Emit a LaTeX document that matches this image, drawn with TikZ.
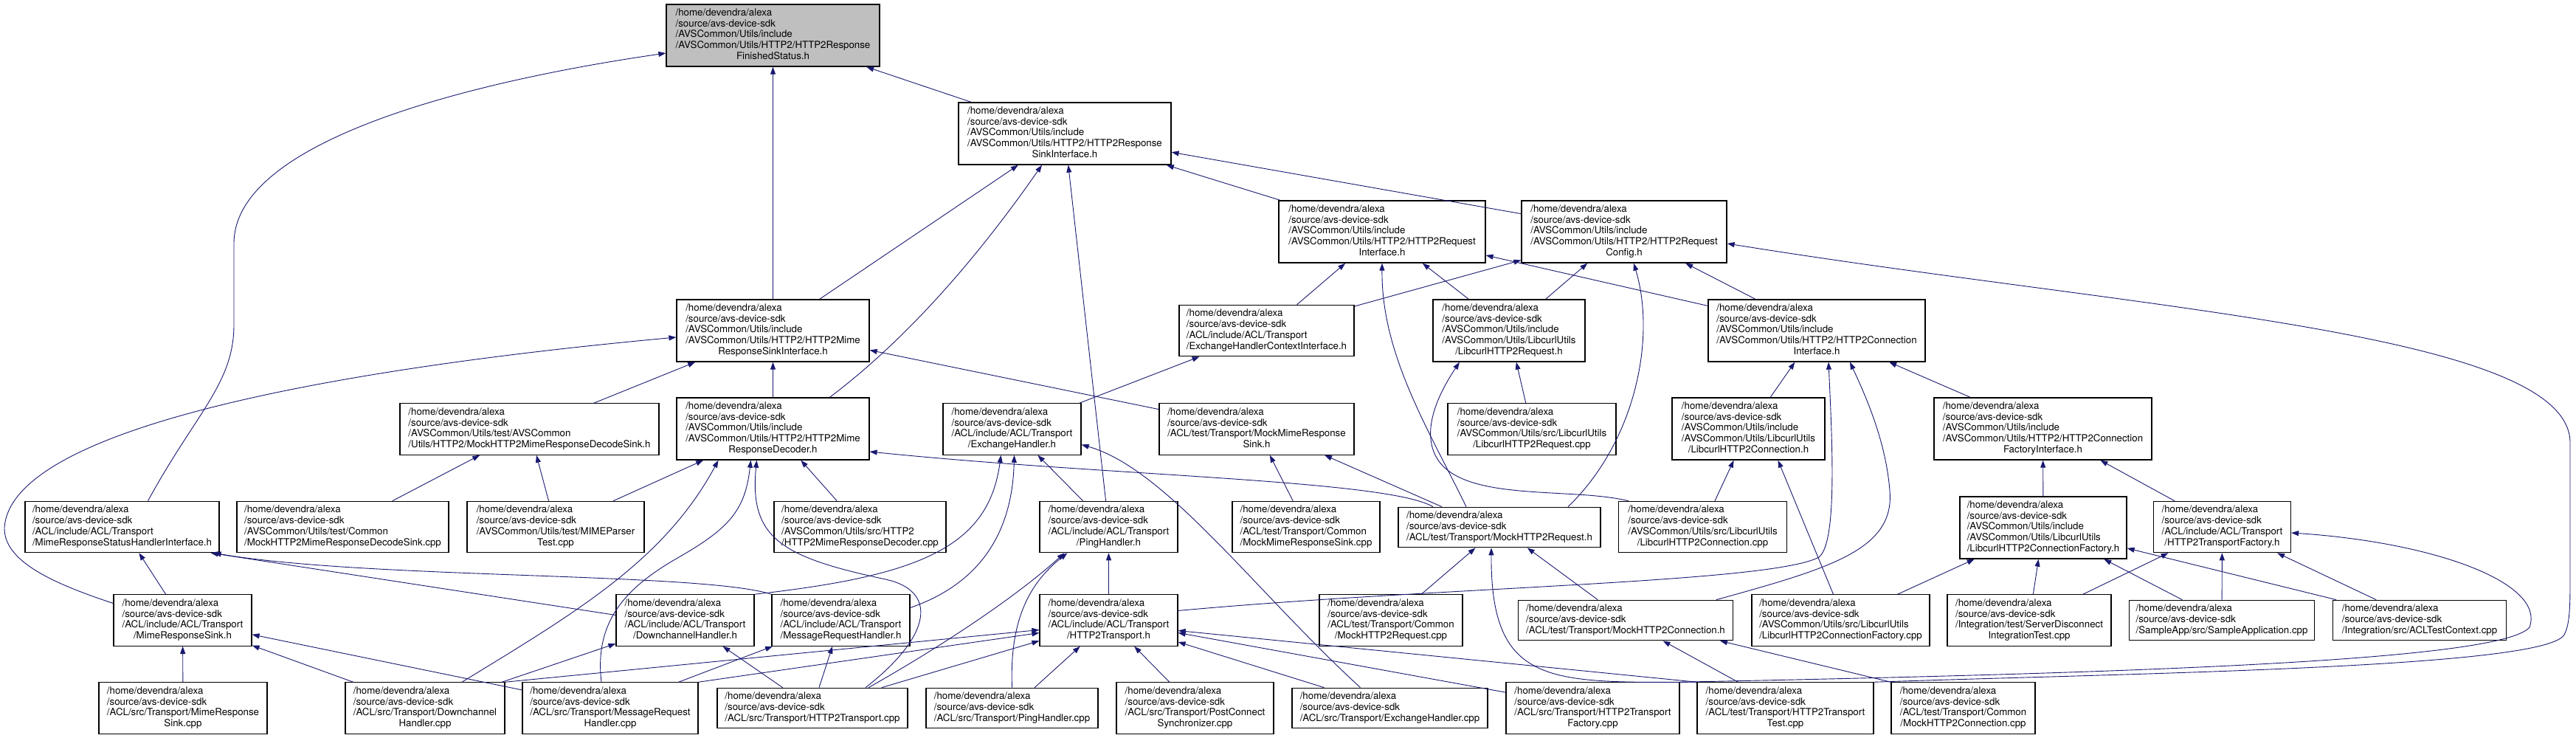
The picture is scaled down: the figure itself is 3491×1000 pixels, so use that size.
\documentclass[tikz,border=0pt]{standalone}
\usepackage{fontspec}
\setmainfont{TeX Gyre Heros}
\usetikzlibrary{arrows.meta}
\definecolor{depblue}{HTML}{191970}
\definecolor{selgrey}{HTML}{BFBFBF}
\newcommand{\fl}[2]{\begin{tabular}{@{}l@{}}/home/devendra/alexa\\/source/avs-device-sdk\\#1\\\multicolumn{1}{@{}c@{}}{#2}\end{tabular}}
\newcommand{\fs}[1]{\begin{tabular}{@{}l@{}}/home/devendra/alexa\\/source/avs-device-sdk\\#1\end{tabular}}

\begin{document}
\begin{tikzpicture}[x=1pt, y=-1pt,
    hdrbox/.style={draw=black, line width=1.2pt, fill=white, inner xsep=2pt, inner ysep=5pt,
                   font=\fontsize{13.3}{14.83}\selectfont},
    dep/.style={draw=depblue, line width=0.9pt, -{Triangle[length=10pt,width=7pt]}}
]
\useasboundingbox (0,0) rectangle (3491,1000);

\node[hdrbox, fill=selgrey, minimum width=289pt] (fin) at (1047.5,48) {\fl{/AVSCommon/Utils/include\\/AVSCommon/Utils/HTTP2/HTTP2Response}{FinishedStatus.h}};
\node[hdrbox, minimum width=288pt] (sinkif) at (1443,181) {\fl{/AVSCommon/Utils/include\\/AVSCommon/Utils/HTTP2/HTTP2Response}{SinkInterface.h}};
\node[hdrbox, minimum width=280pt] (reqif) at (1873,314) {\fl{/AVSCommon/Utils/include\\/AVSCommon/Utils/HTTP2/HTTP2Request}{Interface.h}};
\node[hdrbox, minimum width=278pt] (reqcfg) at (2201,314) {\fl{/AVSCommon/Utils/include\\/AVSCommon/Utils/HTTP2/HTTP2Request}{Config.h}};
\node[hdrbox, minimum width=261pt] (mimesinkif) at (1047.5,448) {\fl{/AVSCommon/Utils/include\\/AVSCommon/Utils/HTTP2/HTTP2Mime}{ResponseSinkInterface.h}};
\node[hdrbox, minimum width=261pt] (mimedec) at (1047.5,581) {\fl{/AVSCommon/Utils/include\\/AVSCommon/Utils/HTTP2/HTTP2Mime}{ResponseDecoder.h}};
\node[hdrbox, minimum width=237pt] (exctxif) at (1716.5,448) {\fl{/ACL/include/ACL/Transport}{/ExchangeHandlerContextInterface.h}};
\node[hdrbox, minimum width=187pt] (exh) at (1371.5,581.5) {\fl{/ACL/include/ACL/Transport}{/ExchangeHandler.h}};
\node[hdrbox, minimum width=264pt] (mockmimesink) at (1703,581.5) {\fl{/ACL/test/Transport/MockMimeResponse}{Sink.h}};
\node[hdrbox, minimum width=206pt] (lcreq) at (2045,448) {\fl{/AVSCommon/Utils/include\\/AVSCommon/Utils/LibcurlUtils}{/LibcurlHTTP2Request.h}};
\node[hdrbox, minimum width=294pt] (connif) at (2462,448) {\fl{/AVSCommon/Utils/include\\/AVSCommon/Utils/HTTP2/HTTP2Connection}{Interface.h}};
\node[hdrbox, minimum width=228pt] (lcreqcpp) at (2076,581.5) {\fl{/AVSCommon/Utils/src/LibcurlUtils}{/LibcurlHTTP2Request.cpp}};
\node[hdrbox, minimum width=207pt] (lcconn) at (2369.5,581) {\fl{/AVSCommon/Utils/include\\/AVSCommon/Utils/LibcurlUtils}{/LibcurlHTTP2Connection.h}};
\node[hdrbox, minimum width=295pt] (connfacif) at (2768.5,581) {\fl{/AVSCommon/Utils/include\\/AVSCommon/Utils/HTTP2/HTTP2Connection}{FactoryInterface.h}};
\node[hdrbox, minimum width=351pt] (mockdecsink) at (717.5,581.5) {\fl{/AVSCommon/Utils/test/AVSCommon}{/Utils/HTTP2/MockHTTP2MimeResponseDecodeSink.h}};
\node[hdrbox, minimum width=263pt] (mimestatus) at (165.5,714) {\fl{/ACL/include/ACL/Transport}{/MimeResponseStatusHandlerInterface.h}};
\node[hdrbox, minimum width=287pt] (mockdecsinkcpp) at (464.5,714) {\fl{/AVSCommon/Utils/test/Common}{/MockHTTP2MimeResponseDecodeSink.cpp}};
\node[hdrbox, minimum width=240pt] (mimeparsertest) at (753,714) {\fl{/AVSCommon/Utils/test/MIMEParser}{Test.cpp}};
\node[hdrbox, minimum width=187pt] (mimesink) at (247.5,840.5) {\fl{/ACL/include/ACL/Transport}{/MimeResponseSink.h}};
\node[hdrbox, minimum width=228pt] (mimesinkcpp) at (248,959.5) {\fl{/ACL/src/Transport/MimeResponse}{Sink.cpp}};
\node[hdrbox, minimum width=216pt] (dchcpp) at (576,959.5) {\fl{/ACL/src/Transport/Downchannel}{Handler.cpp}};
\node[hdrbox, minimum width=238pt] (mrhcpp) at (827,959.5) {\fl{/ACL/src/Transport/MessageRequest}{Handler.cpp}};
\node[hdrbox, minimum width=187pt] (dch) at (928.5,840.5) {\fl{/ACL/include/ACL/Transport}{/DownchannelHandler.h}};
\node[hdrbox, minimum width=187pt] (mrh) at (1139.5,840.5) {\fl{/ACL/include/ACL/Transport}{/MessageRequestHandler.h}};
\node[hdrbox, minimum width=233pt] (mimedeccpp) at (1165.5,714) {\fl{/AVSCommon/Utils/src/HTTP2}{/HTTP2MimeResponseDecoder.cpp}};
\node[hdrbox, minimum width=187pt] (ping) at (1502.5,714) {\fl{/ACL/include/ACL/Transport}{/PingHandler.h}};
\node[hdrbox, minimum width=187pt] (transport) at (1502.5,840.5) {\fl{/ACL/include/ACL/Transport}{/HTTP2Transport.h}};
\node[hdrbox, minimum width=258pt] (transportcpp) at (1101,959.5) {\fs{/ACL/src/Transport/HTTP2Transport.cpp}};
\node[hdrbox, minimum width=233pt] (pingcpp) at (1371.5,959.5) {\fs{/ACL/src/Transport/PingHandler.cpp}};
\node[hdrbox, minimum width=213pt] (postconn) at (1619.5,959.5) {\fl{/ACL/src/Transport/PostConnect}{Synchronizer.cpp}};
\node[hdrbox, minimum width=200pt] (mockmimesinkcpp) at (1770,714) {\fl{/ACL/test/Transport/Common}{/MockMimeResponseSink.cpp}};
\node[hdrbox, minimum width=274pt] (mockreq) at (2032,714.5) {\fs{/ACL/test/Transport/MockHTTP2Request.h}};
\node[hdrbox, minimum width=228pt] (lcconncpp) at (2307.5,714) {\fl{/AVSCommon/Utils/src/LibcurlUtils}{/LibcurlHTTP2Connection.cpp}};
\node[hdrbox, minimum width=194pt] (mockreqcpp) at (1885,840.5) {\fl{/ACL/test/Transport/Common}{/MockHTTP2Request.cpp}};
\node[hdrbox, minimum width=291pt] (mockconn) at (2203,840.5) {\fs{/ACL/test/Transport/MockHTTP2Connection.h}};
\node[hdrbox, minimum width=241pt] (lcconnfaccpp) at (2494.5,840.5) {\fl{/AVSCommon/Utils/src/LibcurlUtils}{/LibcurlHTTP2ConnectionFactory.cpp}};
\node[hdrbox, minimum width=265pt] (exhcpp) at (1883.5,959.5) {\fs{/ACL/src/Transport/ExchangeHandler.cpp}};
\node[hdrbox, minimum width=235pt] (transfaccpp) at (2158.5,959.5) {\fl{/ACL/src/Transport/HTTP2Transport}{Factory.cpp}};
\node[hdrbox, minimum width=239pt] (transtest) at (2419.5,959.5) {\fl{/ACL/test/Transport/HTTP2Transport}{Test.cpp}};
\node[hdrbox, minimum width=195pt] (mockconncpp) at (2660.5,959.5) {\fl{/ACL/test/Transport/Common}{/MockHTTP2Connection.cpp}};
\node[hdrbox, minimum width=226pt] (lcconnfac) at (2769,715) {\fl{/AVSCommon/Utils/include\\/AVSCommon/Utils/LibcurlUtils}{/LibcurlHTTP2ConnectionFactory.h}};
\node[hdrbox, minimum width=186pt] (transfac) at (3011.5,714) {\fl{/ACL/include/ACL/Transport}{/HTTP2TransportFactory.h}};
\node[hdrbox, minimum width=222pt] (srvdisc) at (2750,840.5) {\fl{/Integration/test/ServerDisconnect}{IntegrationTest.cpp}};
\node[hdrbox, minimum width=251pt] (sampleapp) at (3011,840.5) {\fs{/SampleApp/src/SampleApplication.cpp}};
\node[hdrbox, minimum width=235pt] (acltestctx) at (3279,840.5) {\fs{/Integration/src/ACLTestContext.cpp}};

\draw[dep] (sinkif) -- (fin);
\draw[dep] (mimesinkif) -- (fin);
\draw[dep] ([xshift=35pt]mimestatus.north) .. controls (265,560) and (317,520) .. (317,440) -- (317,330) .. controls (317,190) and (640,110) .. ([yshift=-24pt]fin.west);
\draw[dep] (mimesinkif) -- (sinkif);
\draw[dep] ([xshift=77pt]mimedec.north) .. controls (1215,470) and (1310,370) .. ([xshift=-31pt]sinkif.south);
\draw[dep] (ping) -- (sinkif);
\draw[dep] (reqif) -- (sinkif);
\draw[dep] (reqcfg) -- (sinkif);
\draw[dep] (mimedec) -- (mimesinkif);
\draw[dep] (mockdecsink) -- (mimesinkif);
\draw[dep] (mockmimesink) -- (mimesinkif);
\draw[dep] ([yshift=23pt]mimesink.west) .. controls (70,790) and (5,760) .. (6,715) .. controls (15,580) and (450,500) .. ([yshift=-9pt]mimesinkif.west);
\draw[dep] (exctxif) -- (reqif);
\draw[dep] (exctxif) -- (reqcfg);
\draw[dep] (lcreq) -- (reqif);
\draw[dep] (lcreq) -- (reqcfg);
\draw[dep] (connif) -- (reqif);
\draw[dep] (connif) -- (reqcfg);
\draw[dep] ([xshift=-45pt]mockreq.north) .. controls (1935,580) and (1872,480) .. (reqif.south);
\draw[dep] ([xshift=93pt]mockreq.north) .. controls (2215,600) and (2245,460) .. ([xshift=13pt]reqcfg.south);
\draw[dep] ([xshift=-90pt]mockreq.north) .. controls (1880,650) and (1500,645) .. ([yshift=-31pt]mimedec.east);
\draw[dep] ([xshift=-78pt]mockreq.north) -- ([xshift=92pt]mockmimesink.south);
\draw[dep] (mockmimesinkcpp) -- (mockmimesink);
\draw[dep] (exh) -- (exctxif);
\draw[dep] (dch.north east) .. controls (1250,780) and (1340,740) .. ([xshift=-15pt]exh.south);
\draw[dep] ([yshift=17pt]mrh.east) .. controls (1330,790) and (1372,720) .. ([xshift=3pt]exh.south);
\draw[dep] (ping) -- (exh);
\draw[dep] ([xshift=-40pt]exhcpp.north) .. controls (1700,800) and (1580,635) .. ([yshift=-21pt]exh.east);
\draw[dep] (transport) -- (ping);
\draw[dep] ([xshift=76pt]transportcpp.north) .. controls (1260,885) and (1370,815) .. ([xshift=-60pt]ping.south);
\draw[dep] (pingcpp.north) .. controls (1368,840) and (1395,790) .. ([xshift=-56pt]ping.south);
\draw[dep] (dchcpp.north east) -- ([yshift=-13pt]transport.west);
\draw[dep] (mrhcpp.north east) -- ([yshift=-17pt]transport.west);
\draw[dep] (transportcpp) -- (transport);
\draw[dep] (pingcpp) -- (transport);
\draw[dep] (postconn) -- (transport);
\draw[dep] (exhcpp) -- (transport);
\draw[dep] (transfaccpp) -- (transport);
\draw[dep] (transtest.north west) -- ([yshift=-14pt]transport.east);
\draw[dep] ([yshift=13pt]transport.east) .. controls (1950,795) and (2400,790) .. (2465,755) .. controls (2490,735) and (2483,600) .. ([xshift=16pt]connif.south);
\draw[dep] ([xshift=123pt]mockconn.north) .. controls (2480,770) and (2568,745) .. (2561,665) .. controls (2556,600) and (2530,540) .. ([xshift=45pt]connif.south);
\draw[dep] (lcconn) -- (connif);
\draw[dep] (connfacif) -- (connif);
\draw[dep] (lcreqcpp) -- (lcreq);
\draw[dep] ([xshift=14pt]lcconncpp.north west) .. controls (2130,660) and (1990,680) .. (1950,625) .. controls (1925,590) and (1945,540) .. ([xshift=-67pt]lcreq.south);
\draw[dep] (lcconncpp) -- (lcconn);
\draw[dep] ([xshift=-10pt]lcconnfaccpp.north) -- ([xshift=40pt]lcconn.south);
\draw[dep] (lcconnfaccpp) -- (lcconnfac);
\draw[dep] (srvdisc) -- (lcconnfac);
\draw[dep] (sampleapp) -- (lcconnfac);
\draw[dep] (acltestctx) -- (lcconnfac);
\draw[dep] (srvdisc) -- (transfac);
\draw[dep] (sampleapp) -- (transfac);
\draw[dep] (acltestctx) -- (transfac);
\draw[dep] (transfac) -- (connfacif);
\draw[dep] (lcconnfac) -- (connfacif);
\draw[dep] (mockreqcpp) -- (mockreq);
\draw[dep] (mockconn) -- (mockreq);
\draw[dep] (transtest.north west) .. controls (2100,925) and (2020,930) .. ([xshift=-11pt]mockreq.south);
\draw[dep] (transtest) -- (mockconn);
\draw[dep] (mockconncpp.north west) -- ([xshift=128pt]mockconn.south);
\draw[dep] (transfaccpp.north east) .. controls (2900,912) and (3390,895) .. (3428,850) .. controls (3450,790) and (3300,735) .. ([yshift=-8pt]transfac.east);
\draw[dep] (transtest.north east) .. controls (2900,912) and (3450,905) .. (3475,860) .. controls (3483,845) and (3483,820) .. (3483,780) -- (3483,600) .. controls (3483,450) and (2900,420) .. ([yshift=-16pt]reqcfg.east);
\draw[dep] (mimesink) -- (mimestatus);
\draw[dep] (mimesinkcpp) -- (mimesink);
\draw[dep] (dchcpp) -- (mimesink);
\draw[dep] (mrhcpp) -- (mimesink);
\draw[dep] ([yshift=7pt]dch.west) -- ([xshift=-12pt]mimestatus.south east);
\draw[dep] (mrh.north west) .. controls (950,775) and (500,785) .. ([xshift=-8pt]mimestatus.south east);
\draw[dep] (dchcpp) -- (dch);
\draw[dep] ([xshift=50pt]dchcpp.north) .. controls (780,830) and (900,760) .. ([xshift=-74pt]mimedec.south);
\draw[dep] (mimeparsertest) -- (mimedec);
\draw[dep] ([xshift=-12pt]mrhcpp.north) .. controls (805,840) and (850,795) .. (920,755) .. controls (990,715) and (1010,690) .. ([xshift=-30pt]mimedec.south);
\draw[dep] ([xshift=72pt]transportcpp.north) .. controls (1265,860) and (1270,800) .. (1200,785) .. controls (1060,755) and (1015,730) .. ([xshift=-22pt]mimedec.south);
\draw[dep] (mimedeccpp) -- (mimedec);
\draw[dep] (mrhcpp) -- (mrh);
\draw[dep] (transportcpp) -- (mrh);
\draw[dep] (transportcpp) -- (dch);
\draw[dep] (mockdecsinkcpp) -- (mockdecsink);
\draw[dep] (mimeparsertest) -- (mockdecsink);

\end{tikzpicture}
\end{document}
